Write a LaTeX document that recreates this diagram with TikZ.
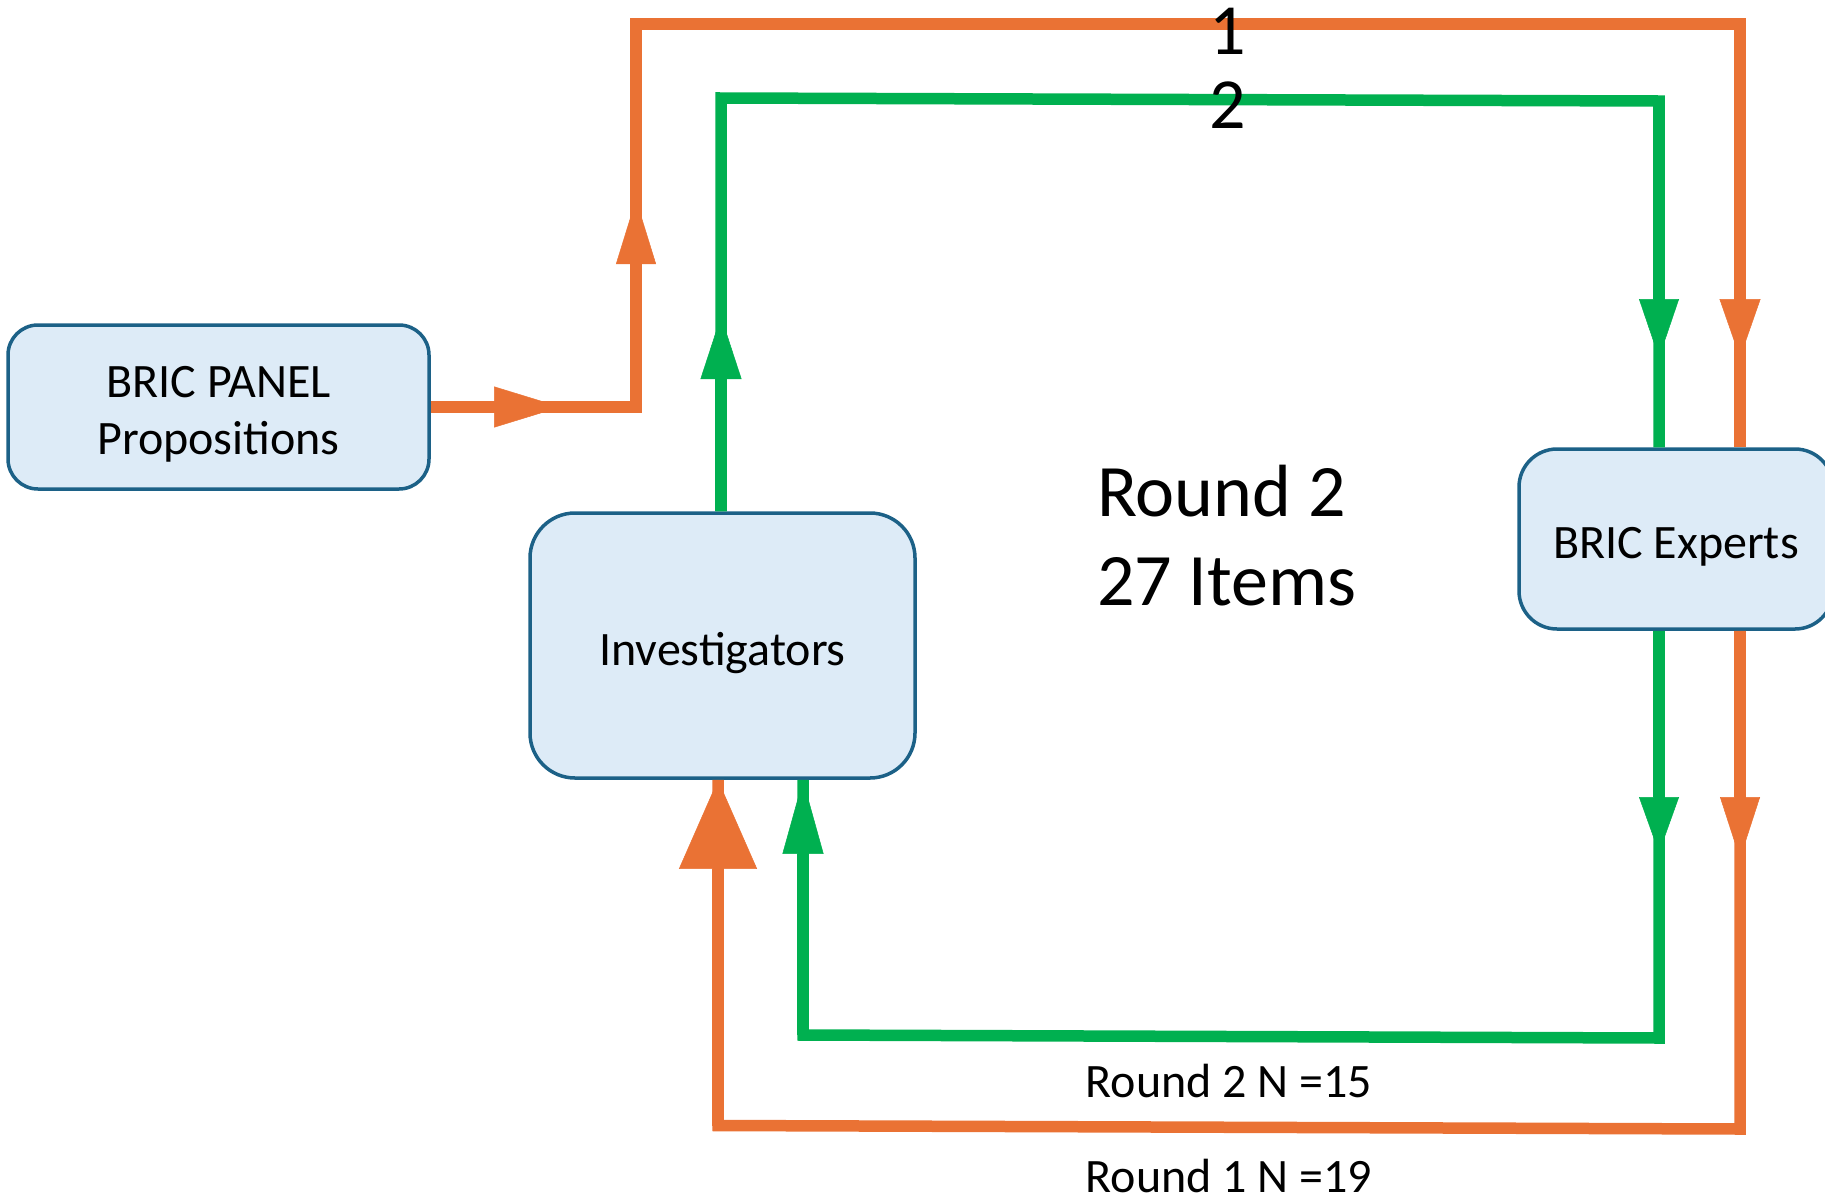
\documentclass[tikz,border=0pt]{standalone}
\usepackage{fontspec}
\setmainfont{Carlito}
\usetikzlibrary{arrows.meta}
\definecolor{boxfill}{HTML}{DDEBF7}
\definecolor{boxline}{HTML}{1C6187}
\definecolor{orng}{HTML}{EA7234}
\definecolor{grn}{HTML}{00B050}
\tikzset{
  box/.style={draw=boxline, line width=3.5pt, fill=boxfill, align=center,
    font=\fontsize{48}{57}\selectfont, inner sep=0pt, text height=39pt, text depth=0pt},
  oline/.style={draw=orng, line width=11.5pt, line join=miter, line cap=butt},
  gline/.style={draw=grn, line width=11.5pt, line join=miter, line cap=butt},
  lbl/.style={anchor=base, inner sep=0pt},
}
\begin{document}
\begin{tikzpicture}[x=1pt,y=-1pt]
\useasboundingbox (0,0) rectangle (1825,1197);
\clip (0,0) rectangle (1825,1197);

% nodes
\node[box, minimum width=421pt, minimum height=164pt, rounded corners=30pt, text height=94pt] (panel) at (218.5,407) {BRIC PANEL\\Propositions};
\node[box, minimum width=385pt, minimum height=265pt, rounded corners=45pt] (inv) at (722.5,645.5) {Investigators};
\node[box, minimum width=314pt, minimum height=180pt, rounded corners=38pt] (exp) at (1676,539) {BRIC Experts};

% helper coordinates
\coordinate (oh) at (561,407);
\coordinate (oc1) at (636,407);
\coordinate (ou) at (636,199);
\coordinate (oc2) at (636,24);
\coordinate (oc3) at (1740,24);
\coordinate (od1) at (1740,358);
\coordinate (oe1) at (1740,0 |- exp.north);
\coordinate (oe2) at (1740,0 |- exp.south);
\coordinate (od2) at (1740,859);
\coordinate (oc4) at (1740,1129);
\coordinate (oc5) at (718,1125.5);
\coordinate (oi) at (718,0 |- inv.south);

\coordinate (gi1) at (721,0 |- inv.north);
\coordinate (gu) at (721,316);
\coordinate (gc1) at (721,98);
\coordinate (gc2) at (1659,101);
\coordinate (gd1) at (1659,358);
\coordinate (ge1) at (1659,0 |- exp.north);
\coordinate (ge2) at (1659,0 |- exp.south);
\coordinate (gd2) at (1659,853);
\coordinate (gc3) at (1659,1038);
\coordinate (gc4) at (803,1035);
\coordinate (gi2) at (803,0 |- inv.south);

% orange: round 1 out
\draw[oline] (panel.east) -- (oc1) -- (oc2) -- (oc3) -- (oe1);
\draw[oline, -{Triangle[length=67pt,width=41pt,line width=0.5pt]}] (panel.east) -- (oh);
\draw[oline, -{Triangle[length=65pt,width=40pt,line width=0.5pt]}] (oc1) -- (ou);
\draw[oline, -{Triangle[length=59pt,width=41pt,line width=0.5pt]}] (oc3) -- (od1);
% orange: round 1 back
\draw[oline] (oe2) -- (oc4) -- (oc5) -- (oi);
\draw[oline, -{Triangle[length=62pt,width=40pt,line width=0.5pt]}] (oe2) -- (od2);
\draw[oline, -{Triangle[length=89pt,width=78pt,line width=0.5pt]}] (oc5) -- (oi);

% green: round 2 out
\draw[gline] (gi1) -- (gc1) -- (gc2) -- (ge1);
\draw[gline, -{Triangle[length=63pt,width=41pt,line width=0.5pt]}] (gi1) -- (gu);
\draw[gline, -{Triangle[length=59pt,width=40pt,line width=0.5pt]}] (gc2) -- (gd1);
% green: round 2 back
\draw[gline] (ge2) -- (gc3) -- (gc4) -- (gi2);
\draw[gline, -{Triangle[length=56pt,width=40pt,line width=0.5pt]}] (ge2) -- (gd2);
\draw[gline, -{Triangle[length=74pt,width=41pt,line width=0.5pt]}] (gc4) -- (gi2);

% labels
\node[lbl, font=\fontsize{72}{86}\selectfont] (n1) at (1228,54) {1};
\node[lbl, font=\fontsize{72}{86}\selectfont] (n2) at (1228,128) {2};
\node[anchor=base west, inner sep=0pt, align=left, font=\fontsize{74}{89}\selectfont] (r2) at (1097,605) {Round 2\\27 Items};
\node[lbl, font=\fontsize{48}{57}\selectfont] (l2) at (1229,1097) {Round 2 N =15};
\node[lbl, font=\fontsize{48}{57}\selectfont] (l1) at (1229,1192) {Round 1 N =19};
\end{tikzpicture}
\end{document}
